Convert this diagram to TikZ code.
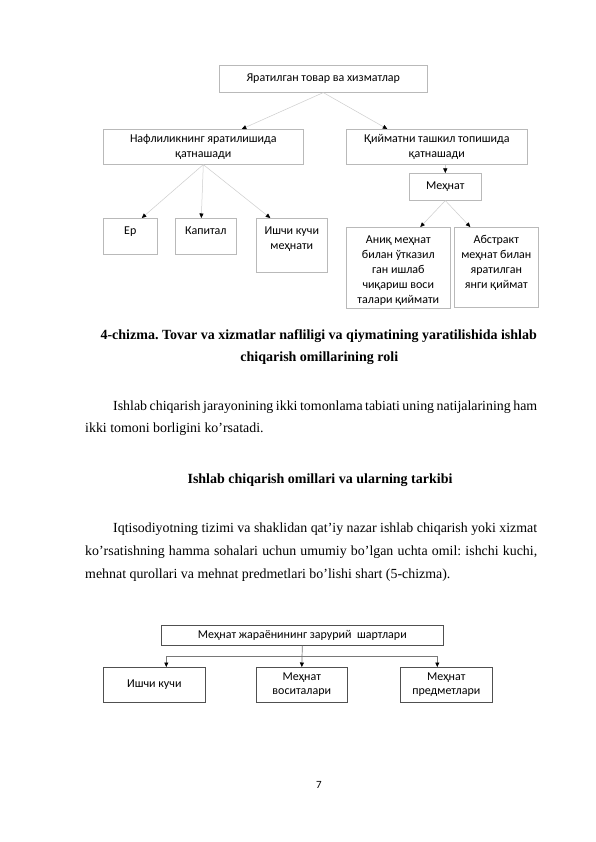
\documentclass[tikz,border=0pt]{standalone}
\usepackage{fontspec}
\setmainfont{Liberation Serif}
\newfontfamily\diagfont{Carlito}
\usetikzlibrary{arrows.meta,calc}
\frenchspacing

\definecolor{boxgray}{RGB}{185,185,185}
\definecolor{linkgray}{RGB}{205,205,205}
\definecolor{darkbox}{RGB}{80,80,80}
\definecolor{darklink}{RGB}{120,120,120}

% text pinned to the top of a box
\newcommand{\topcell}[3]{\parbox[c][#2][t]{#1}{\centering\rule{0pt}{16pt}#3}}

\tikzset{
  box/.style={draw=boxgray, line width=0.6pt, anchor=north west, inner sep=0pt,
    align=center, font=\diagfont\fontsize{12}{15}\selectfont},
  darkcell/.style={box, draw=darkbox, font=\diagfont\fontsize{12}{14}\selectfont},
  link/.style={draw=linkgray, line width=0.5pt,
    -{Triangle[length=4.5pt,width=4pt,color=black]}},
  darklinkstyle/.style={link, draw=darklink, line width=0.7pt},
  bodyline/.style={anchor=base west, inner sep=0pt, font=\fontsize{13.9}{16}\selectfont},
  midline/.style={anchor=base, inner sep=0pt, font=\bfseries\fontsize{14}{16}\selectfont}
}

\begin{document}
\begin{tikzpicture}[x=1pt, y=-1pt]
  \fill[white] (0,0) rectangle (596,842);
  \useasboundingbox (0,0) rectangle (596,842);

  % first scheme
  \node[box, minimum width=208pt, minimum height=27pt] (tovar) at (219,65) {Яратилган товар ва хизматлар};
  \node[box, minimum width=200pt, minimum height=35pt] (nafl) at (103,129) {Нафлиликнинг яратилишида\\қатнашади};
  \node[box, minimum width=181pt, minimum height=35pt] (qiymat) at (346,129) {Қийматни ташкил топишида\\қатнашади};
  \node[box, minimum width=72pt, minimum height=27pt] (mehnat) at (409,173) {Меҳнат};

  \node[box] (yer) at (103,218) {\topcell{54pt}{36pt}{Ер}};
  \node[box] (kapital) at (175,218) {\topcell{61pt}{36pt}{Капитал}};
  \node[box] (ishchi) at (256,218) {\topcell{71pt}{54pt}{Ишчи кучи\\меҳнати}};
  \node[box] (aniq) at (346,227) {\topcell{104pt}{81pt}{Аниқ меҳнат\\билан ўтказил\\ган ишлаб\\чиқариш воси\\талари қиймати}};
  \node[box] (abstrakt) at (454,227) {\topcell{84pt}{80pt}{Абстракт\\меҳнат билан\\яратилган\\янги қиймат}};

  \draw[link] (tovar.south) -- ($(nafl.north)+(38.5,0)$);
  \draw[link] (tovar.south) -- ($(qiymat.north)+(-49.5,0)$);
  \draw[link] (nafl.south) -- ($(yer.north)+(11.5,0)$);
  \draw[link] (nafl.south) -- ($(kapital.north)+(-4.5,0)$);
  \draw[link] (nafl.south) -- ($(ishchi.north)+(-21.5,0)$);
  \draw[link] (mehnat.north |- qiymat.south) -- (mehnat.north);
  \draw[link] (mehnat.south) -- ($(aniq.north)+(22,0)$);
  \draw[link] (mehnat.south) -- ($(abstrakt.north)+(-26,0)$);

  % text of the page
  \node[midline] (cap1) at (318.7,339) {4-chizma. Tovar va xizmatlar nafliligi va qiymatining yaratilishida ishlab};
  \node[midline] (cap2) at (319.3,361.5) {chiqarish omillarining roli};

  \node[bodyline] (parA1) at (113,410) {\makebox[424pt][s]{Ishlab chiqarish jarayonining ikki tomonlama tabiati uning natijalarining ham}};
  \node[bodyline] (parA2) at (85,432.5) {ikki tomoni borligini ko’rsatadi.};

  \node[midline] (head) at (320,483) {Ishlab chiqarish omillari va ularning tarkibi};

  \node[bodyline] (parB1) at (113,532) {\makebox[424pt][s]{Iqtisodiyotning tizimi va shaklidan qat’iy nazar ishlab chiqarish yoki xizmat}};
  \node[bodyline] (parB2) at (85,555) {\makebox[452pt][s]{ko’rsatishning hamma sohalari uchun umumiy bo’lgan uchta omil: ishchi kuchi,}};
  \node[bodyline] (parB3) at (85,578.5) {mehnat qurollari va mehnat predmetlari bo’lishi shart (5-chizma).};

  % second scheme
  \node[darkcell, minimum width=282pt, minimum height=20pt] (shart) at (161,625) {Меҳнат жараёнининг зарурий\ \ шартлари};
  \node[darkcell, minimum width=102pt, minimum height=35pt] (ishkuch) at (103,667) {Ишчи кучи};
  \node[darkcell, minimum width=91pt, minimum height=35pt] (vosita) at (256,667) {Меҳнат\\воситалари};
  \node[darkcell, minimum width=92pt, minimum height=35pt] (predmet) at (400,667) {Меҳнат\\предметлари};

  \coordinate (busL) at ($(ishkuch.north)+(12,-11)$);
  \coordinate (busR) at ($(predmet.north)+(-9,-11)$);
  \draw[darklink, line width=0.7pt] (busL) -- (busR);
  \draw[darklinkstyle] (busL) -- (ishkuch.north -| busL);
  \draw[darklinkstyle] (busR) -- (predmet.north -| busR);
  \draw[darklinkstyle] (shart.south) -- (vosita.north);

  \node[inner sep=0pt, font=\diagfont\fontsize{11}{12}\selectfont] (pagenum) at (319,785) {7};
\end{tikzpicture}
\end{document}
